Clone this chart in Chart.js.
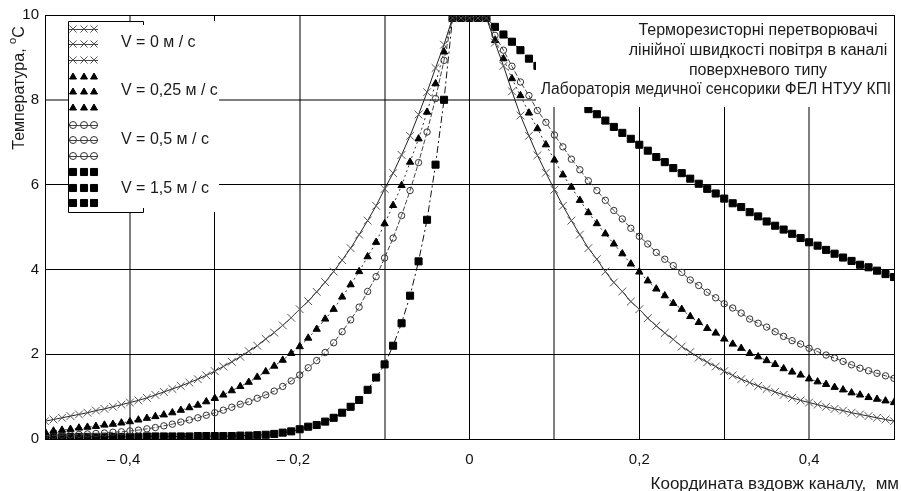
<!DOCTYPE html>
<html>
<head>
<meta charset="utf-8">
<script src="https://cdn.jsdelivr.net/npm/chart.js@4.4.0/dist/chart.umd.min.js"></script>
<style>
  html, body { margin: 0; padding: 0; background: #fff; }
  canvas { display: block; }
</style>
</head>
<body>
<canvas id="tempChart" width="901" height="491"></canvas>
<script>
// coordinate along the channel, mm
const xs = [
  -0.50,-0.49,-0.48,-0.47,-0.46,-0.45,-0.44,-0.43,-0.42,-0.41,
  -0.40,-0.39,-0.38,-0.37,-0.36,-0.35,-0.34,-0.33,-0.32,-0.31,
  -0.30,-0.29,-0.28,-0.27,-0.26,-0.25,-0.24,-0.23,-0.22,-0.21,
  -0.20,-0.19,-0.18,-0.17,-0.16,-0.15,-0.14,-0.13,-0.12,-0.11,
  -0.10,-0.09,-0.08,-0.07,-0.06,-0.05,-0.04,-0.03,
  -0.02,-0.01,0.00,0.01,0.02,
  0.03,0.04,0.05,0.06,0.07,0.08,0.09,0.10,
  0.11,0.12,0.13,0.14,0.15,0.16,0.17,0.18,0.19,0.20,
  0.21,0.22,0.23,0.24,0.25,0.26,0.27,0.28,0.29,0.30,
  0.31,0.32,0.33,0.34,0.35,0.36,0.37,0.38,0.39,0.40,
  0.41,0.42,0.43,0.44,0.45,0.46,0.47,0.48,0.49,0.50
];

// temperature, V = 0 m/s
const v0 = [
  0.42,0.46,0.50,0.54,0.58,0.62,0.67,0.71,0.76,0.81,
  0.86,0.91,0.97,1.04,1.11,1.18,1.25,1.33,1.41,1.50,
  1.60,1.71,1.82,1.94,2.07,2.20,2.36,2.51,2.68,2.86,
  3.06,3.25,3.47,3.70,3.95,4.22,4.50,4.82,5.15,5.50,
  5.90,6.27,6.70,7.15,7.65,8.18,8.75,9.30,
  9.93,9.93,9.93,9.93,9.93,
  9.35,8.80,8.20,7.63,7.15,6.69,6.28,5.88,
  5.50,5.15,4.82,4.50,4.24,3.95,3.69,3.48,3.24,3.06,
  2.85,2.67,2.50,2.35,2.18,2.05,1.92,1.81,1.71,1.60,
  1.50,1.41,1.33,1.25,1.18,1.11,1.04,0.97,0.91,0.86,
  0.81,0.76,0.71,0.67,0.62,0.58,0.54,0.50,0.46,0.42
];

// V = 0,25 m/s
const v025 = [
  0.17,0.19,0.21,0.23,0.26,0.28,0.30,0.33,0.35,0.38,
  0.41,0.45,0.49,0.53,0.57,0.62,0.68,0.74,0.80,0.88,
  0.96,1.04,1.14,1.24,1.34,1.46,1.59,1.72,1.86,2.02,
  2.18,2.38,2.59,2.83,3.06,3.35,3.64,3.95,4.30,4.64,
  5.08,5.51,5.98,6.53,7.08,7.71,8.38,9.13,
  9.93,9.93,9.93,9.93,9.93,
  9.40,8.97,8.50,8.10,7.69,7.32,6.94,6.58,
  6.23,5.94,5.63,5.34,5.08,4.84,4.60,4.37,4.13,3.94,
  3.73,3.54,3.38,3.20,3.06,2.89,2.75,2.61,2.50,2.36,
  2.24,2.14,2.02,1.94,1.85,1.76,1.66,1.58,1.51,1.42,
  1.35,1.29,1.22,1.16,1.09,1.04,0.98,0.94,0.90,0.86
];

// V = 0,5 m/s
const v05 = [
  0.08,0.085,0.09,0.10,0.11,0.12,0.13,0.14,0.16,0.17,
  0.19,0.21,0.24,0.27,0.31,0.35,0.40,0.45,0.50,0.56,
  0.62,0.68,0.75,0.82,0.88,0.96,1.04,1.13,1.24,1.37,
  1.51,1.68,1.85,2.04,2.27,2.53,2.81,3.11,3.48,3.83,
  4.27,4.74,5.27,5.86,6.52,7.24,8.03,8.93,
  9.93,9.93,9.93,9.93,9.93,
  9.52,9.17,8.79,8.42,8.10,7.75,7.47,7.17,
  6.89,6.60,6.35,6.09,5.86,5.63,5.39,5.19,4.97,4.78,
  4.60,4.40,4.24,4.09,3.93,3.75,3.62,3.46,3.33,3.19,
  3.09,2.97,2.83,2.73,2.64,2.53,2.42,2.32,2.24,2.14,
  2.06,1.98,1.91,1.83,1.75,1.67,1.61,1.55,1.49,1.43
];

// V = 1,5 m/s
const v15 = [
  0.04,0.04,0.04,0.05,0.05,0.05,0.05,0.05,0.05,0.05,
  0.05,0.05,0.06,0.06,0.06,0.06,0.06,0.06,0.07,0.07,
  0.07,0.07,0.07,0.08,0.08,0.09,0.10,0.12,0.15,0.18,
  0.23,0.29,0.33,0.41,0.50,0.62,0.76,0.92,1.16,1.45,
  1.76,2.20,2.73,3.38,4.19,5.17,6.47,8.00,
  9.93,9.93,9.93,9.93,9.93,
  9.72,9.54,9.37,9.17,8.97,8.80,8.62,8.44,
  8.26,8.10,7.94,7.78,7.66,7.51,7.36,7.22,7.08,6.94,
  6.80,6.65,6.53,6.39,6.27,6.14,6.02,5.90,5.79,5.67,
  5.56,5.47,5.35,5.25,5.13,5.03,4.94,4.84,4.74,4.64,
  4.56,4.46,4.37,4.28,4.20,4.11,4.05,3.97,3.89,3.82
];

const seriesNames = ['V = 0 м / с', 'V = 0,25 м / с', 'V = 0,5 м / с', 'V = 1,5 м / с'];
const xTickValues = [-0.4, -0.2, 0, 0.2, 0.4];
const xTickLabels = ['– 0,4', '– 0,2', '0', '0,2', '0,4'];
const yTickValues = [0, 2, 4, 6, 8, 10];

const titleLines = ['Терморезисторні перетворювачі', 'лінійної швидкості повітря в каналі', 'поверхневого типу'];
const labLine = 'Лабораторія медичної сенсорики ФЕЛ НТУУ КПІ';
const yTitle = 'Температура, ';
const xTitle = 'Координата вздовж каналу,  мм';

const FONT = '"Liberation Sans", Arial, sans-serif';
const near = (a, b) => Math.abs(a - b) < 1e-6;
const pts = ys => xs.map((x, i) => ({ x: x, y: ys[i] }));

// lines that come out anti-aliased grey in the original
const greyX = [-0.4, -0.2, -0.1, 0.1, 0.4];
const greyY = [8];

const markerStyles = [
  { pointStyle: 'crossRot', fill: 'rgba(0,0,0,0)', stroke: '#555' },
  { pointStyle: 'triangle', fill: '#000', stroke: '#000' },
  { pointStyle: 'circle', fill: 'rgba(0,0,0,0)', stroke: '#333' },
  { pointStyle: 'rect', fill: '#000', stroke: '#000' }
];

const overlay = {
  id: 'overlay',
  afterDatasetsDraw(chart) {
    const ctx = chart.ctx;
    const a = chart.chartArea;
    ctx.save();

    // white box behind the caption
    ctx.fillStyle = '#fff';
    ctx.fillRect(536, a.top, a.right - 536, 107 - a.top);

    ctx.fillStyle = '#1a1a1a';
    ctx.font = '16px ' + FONT;
    ctx.textAlign = 'center';
    ctx.textBaseline = 'middle';
    const lineY = [31, 51, 71];
    titleLines.forEach((t, i) => ctx.fillText(t, 758, lineY[i]));
    ctx.font = '15.6px ' + FONT;
    ctx.fillText(labLine, 716, 90);

    // legend box
    ctx.fillStyle = '#fff';
    ctx.fillRect(68, 21, 151, 191);
    ctx.strokeStyle = '#000';
    ctx.lineWidth = 1;
    ctx.beginPath();
    ctx.moveTo(143.5, 25); ctx.lineTo(143.5, 21.5); ctx.lineTo(68.5, 21.5);
    ctx.lineTo(68.5, 212.5); ctx.lineTo(143.5, 212.5); ctx.lineTo(143.5, 208);
    ctx.stroke();

    const rowsY = [[29, 44, 60], [77, 92, 108], [125, 140, 156], [172, 188, 203]];
    const colsX = [73, 84, 94];
    const radii = [5, 4, 3.5, 5];
    rowsY.forEach((rows, s) => {
      const m = markerStyles[s];
      rows.forEach(y => {
        if (s === 0 || s === 2) {
          ctx.strokeStyle = '#444';
          ctx.setLineDash([]);
          ctx.beginPath();
          ctx.moveTo(69, y + 0.5); ctx.lineTo(98, y + 0.5);
          ctx.stroke();
        }
        colsX.forEach(x => {
          ctx.fillStyle = m.fill;
          ctx.strokeStyle = m.stroke;
          ctx.lineWidth = 1;
          Chart.helpers.drawPoint(ctx, { pointStyle: m.pointStyle, radius: radii[s], rotation: 0, borderWidth: 1 }, x, y);
        });
      });
    });

    ctx.fillStyle = '#1a1a1a';
    ctx.font = '16px ' + FONT;
    ctx.textAlign = 'left';
    ctx.textBaseline = 'middle';
    const legY = [43, 91, 140, 189];
    seriesNames.forEach((n, i) => ctx.fillText(n, 121, legY[i]));

    // plot frame
    ctx.strokeStyle = '#000';
    ctx.lineWidth = 1;
    ctx.strokeRect(a.left + 0.5, a.top + 0.5, a.right - a.left, a.bottom - a.top);

    // axis titles
    ctx.fillStyle = '#1a1a1a';
    ctx.font = '17px ' + FONT;
    ctx.textAlign = 'right';
    ctx.textBaseline = 'middle';
    ctx.fillText(xTitle, 899, 484);

    ctx.translate(20, 88);
    ctx.rotate(-Math.PI / 2);
    ctx.textAlign = 'left';
    ctx.font = '16px ' + FONT;
    const w1 = ctx.measureText(yTitle).width;
    ctx.font = '11px ' + FONT;
    const w2 = ctx.measureText('o').width;
    ctx.font = '16px ' + FONT;
    const w3 = ctx.measureText('С').width;
    let x0 = -(w1 + w2 + w3) / 2;
    ctx.fillText(yTitle, x0, 0);
    ctx.font = '11px ' + FONT;
    ctx.fillText('o', x0 + w1, -7);
    ctx.font = '16px ' + FONT;
    ctx.fillText('С', x0 + w1 + w2, 0);

    ctx.restore();
  }
};

const lineDataset = (i, ys, radius, lineColor, dash) => ({
  label: seriesNames[i],
  data: pts(ys),
  borderColor: lineColor,
  borderWidth: 1,
  borderDash: dash,
  pointStyle: markerStyles[i].pointStyle,
  pointRadius: radius,
  pointBackgroundColor: markerStyles[i].fill,
  pointBorderColor: markerStyles[i].stroke,
  pointBorderWidth: 1,
  fill: false,
  tension: 0
});

new Chart(document.getElementById('tempChart').getContext('2d'), {
  type: 'line',
  data: {
    datasets: [
      lineDataset(0, v0, 5.5, '#222', []),
      lineDataset(1, v025, 4.2, '#333', [2, 3]),
      lineDataset(2, v05, 3.2, '#444', [5, 2]),
      lineDataset(3, v15, 5, '#111', [7, 3, 2, 3])
    ]
  },
  options: {
    responsive: false,
    animation: false,
    devicePixelRatio: 1,
    layout: { padding: { top: 15, right: 7, left: 0, bottom: 0 } },
    plugins: { legend: { display: false }, tooltip: { enabled: false } },
    scales: {
      x: {
        type: 'linear',
        min: -0.5,
        max: 0.5,
        afterFit: s => { s.height = 52; s.paddingLeft = 0; s.paddingRight = 0; },
        grid: {
          drawTicks: false,
          color: c => greyX.some(g => near(g, c.tick.value)) ? 'rgba(0,0,0,0.5)' : '#000',
          lineWidth: c => greyX.some(g => near(g, c.tick.value)) ? 2 : 1
        },
        border: { display: false },
        ticks: {
          stepSize: 0.1,
          autoSkip: false,
          maxRotation: 0,
          padding: 12,
          color: '#111',
          font: { family: FONT, size: 15 },
          callback: v => {
            const k = xTickValues.findIndex(t => near(t, v));
            if (k < 0) return '';
            return xTickValues[k] < 0 ? xTickLabels[k] + '   ' : xTickLabels[k];
          }
        }
      },
      y: {
        min: 0,
        max: 10,
        afterFit: s => { s.width = 45; s.paddingTop = 0; s.paddingBottom = 0; },
        grid: {
          drawTicks: false,
          color: c => greyY.some(g => near(g, c.tick.value)) ? 'rgba(0,0,0,0.5)' : '#000',
          lineWidth: c => greyY.some(g => near(g, c.tick.value)) ? 2 : 1
        },
        border: { display: false },
        ticks: {
          stepSize: 2,
          padding: 6,
          color: '#111',
          font: { family: FONT, size: 15 },
          callback: v => yTickValues.includes(v) ? String(v) : ''
        }
      }
    }
  },
  plugins: [overlay]
});
</script>
</body>
</html>
